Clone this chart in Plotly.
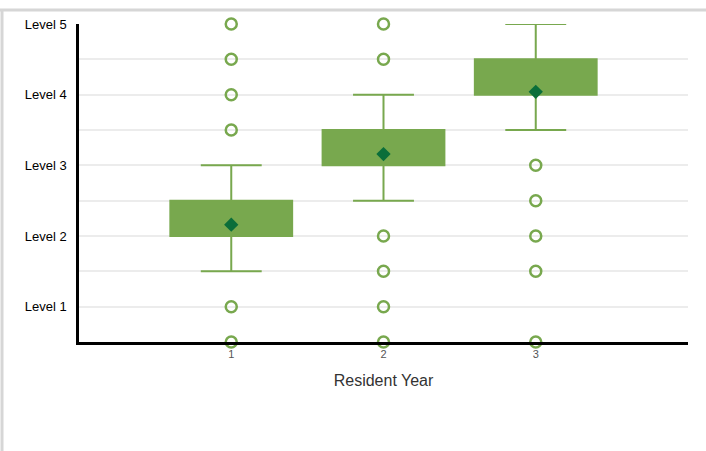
import plotly.graph_objects as go

# ---- data ----
years = [1, 2, 3]
q1 = [2.0, 3.0, 4.0]
median = [2.0, 3.0, 4.0]
q3 = [2.5, 3.5, 4.5]
lower_whisker = [1.5, 2.5, 3.5]
upper_whisker = [3.0, 4.0, 5.0]
means = [2.16, 3.16, 4.04]

outliers_y1 = [0.5, 1.0, 3.5, 4.0, 4.5, 5.0]
outliers_y2 = [0.5, 1.0, 1.5, 2.0, 4.5, 5.0]
outliers_y3 = [0.5, 1.5, 2.0, 2.5, 3.0]

y_tickvals = [0.5, 1, 1.5, 2, 2.5, 3, 3.5, 4, 4.5, 5]
y_ticktext = ["", "Level 1", "", "Level 2", "", "Level 3", "", "Level 4", "", "Level 5"]
x_ticklabels = ["1", "2", "3"]

GREEN = "#78a84e"
DARK = "#0a6e3a"

fig = go.Figure()

fig.add_trace(go.Box(
    x=years, q1=q1, median=median, q3=q3,
    lowerfence=lower_whisker, upperfence=upper_whisker,
    width=0.8, whiskerwidth=0.5,
    line=dict(color=GREEN, width=2),
    fillcolor=GREEN, boxpoints=False, showlegend=False, hoverinfo="skip",
))

ox, oy = [], []
for yr, vals in zip(years, [outliers_y1, outliers_y2, outliers_y3]):
    ox += [yr] * len(vals)
    oy += vals
fig.add_trace(go.Scatter(
    x=ox, y=oy, mode="markers", cliponaxis=False, showlegend=False,
    marker=dict(symbol="circle-open", size=11, color=GREEN, line=dict(width=2.5, color=GREEN)),
))
fig.add_trace(go.Scatter(
    x=years, y=means, mode="markers", showlegend=False,
    marker=dict(symbol="diamond", size=11, color=DARK),
))

fig.update_layout(
    width=706, height=451,
    margin=dict(l=79, r=18, t=24, b=109),
    paper_bgcolor="white", plot_bgcolor="white",
    font=dict(family="Liberation Sans, Arial, sans-serif", color="black"),
    xaxis=dict(
        range=[0, 4], tickvals=years, ticktext=x_ticklabels, showgrid=False,
        zeroline=False, showline=True, linecolor="black", linewidth=2.5,
        ticks="", tickfont=dict(size=11, color="#555"),
        title=dict(text="Resident Year", font=dict(size=16, color="#333"), standoff=16),
    ),
    yaxis=dict(
        range=[0.5, 5], tickvals=y_tickvals, ticktext=y_ticktext,
        showgrid=True, gridcolor="#ececec", gridwidth=2,
        zeroline=False, showline=True, linecolor="black", linewidth=2.5,
        ticks="", ticklabelstandoff=7, tickfont=dict(size=13, color="black"),
    ),
    shapes=[
        dict(type="line", xref="paper", yref="paper", x0=-0.13, x1=1.03,
             y0=1.044, y1=1.044, line=dict(color="#d6d6d6", width=3)),
        dict(type="line", xref="paper", yref="paper", x0=-0.1264, x1=-0.1264,
             y0=1.044, y1=-0.35, line=dict(color="#d6d6d6", width=3)),
    ],
)

fig.write_html("out.html", config={"displayModeBar": False},
               post_script="document.body.style.margin='0';document.body.style.overflow='hidden';")
